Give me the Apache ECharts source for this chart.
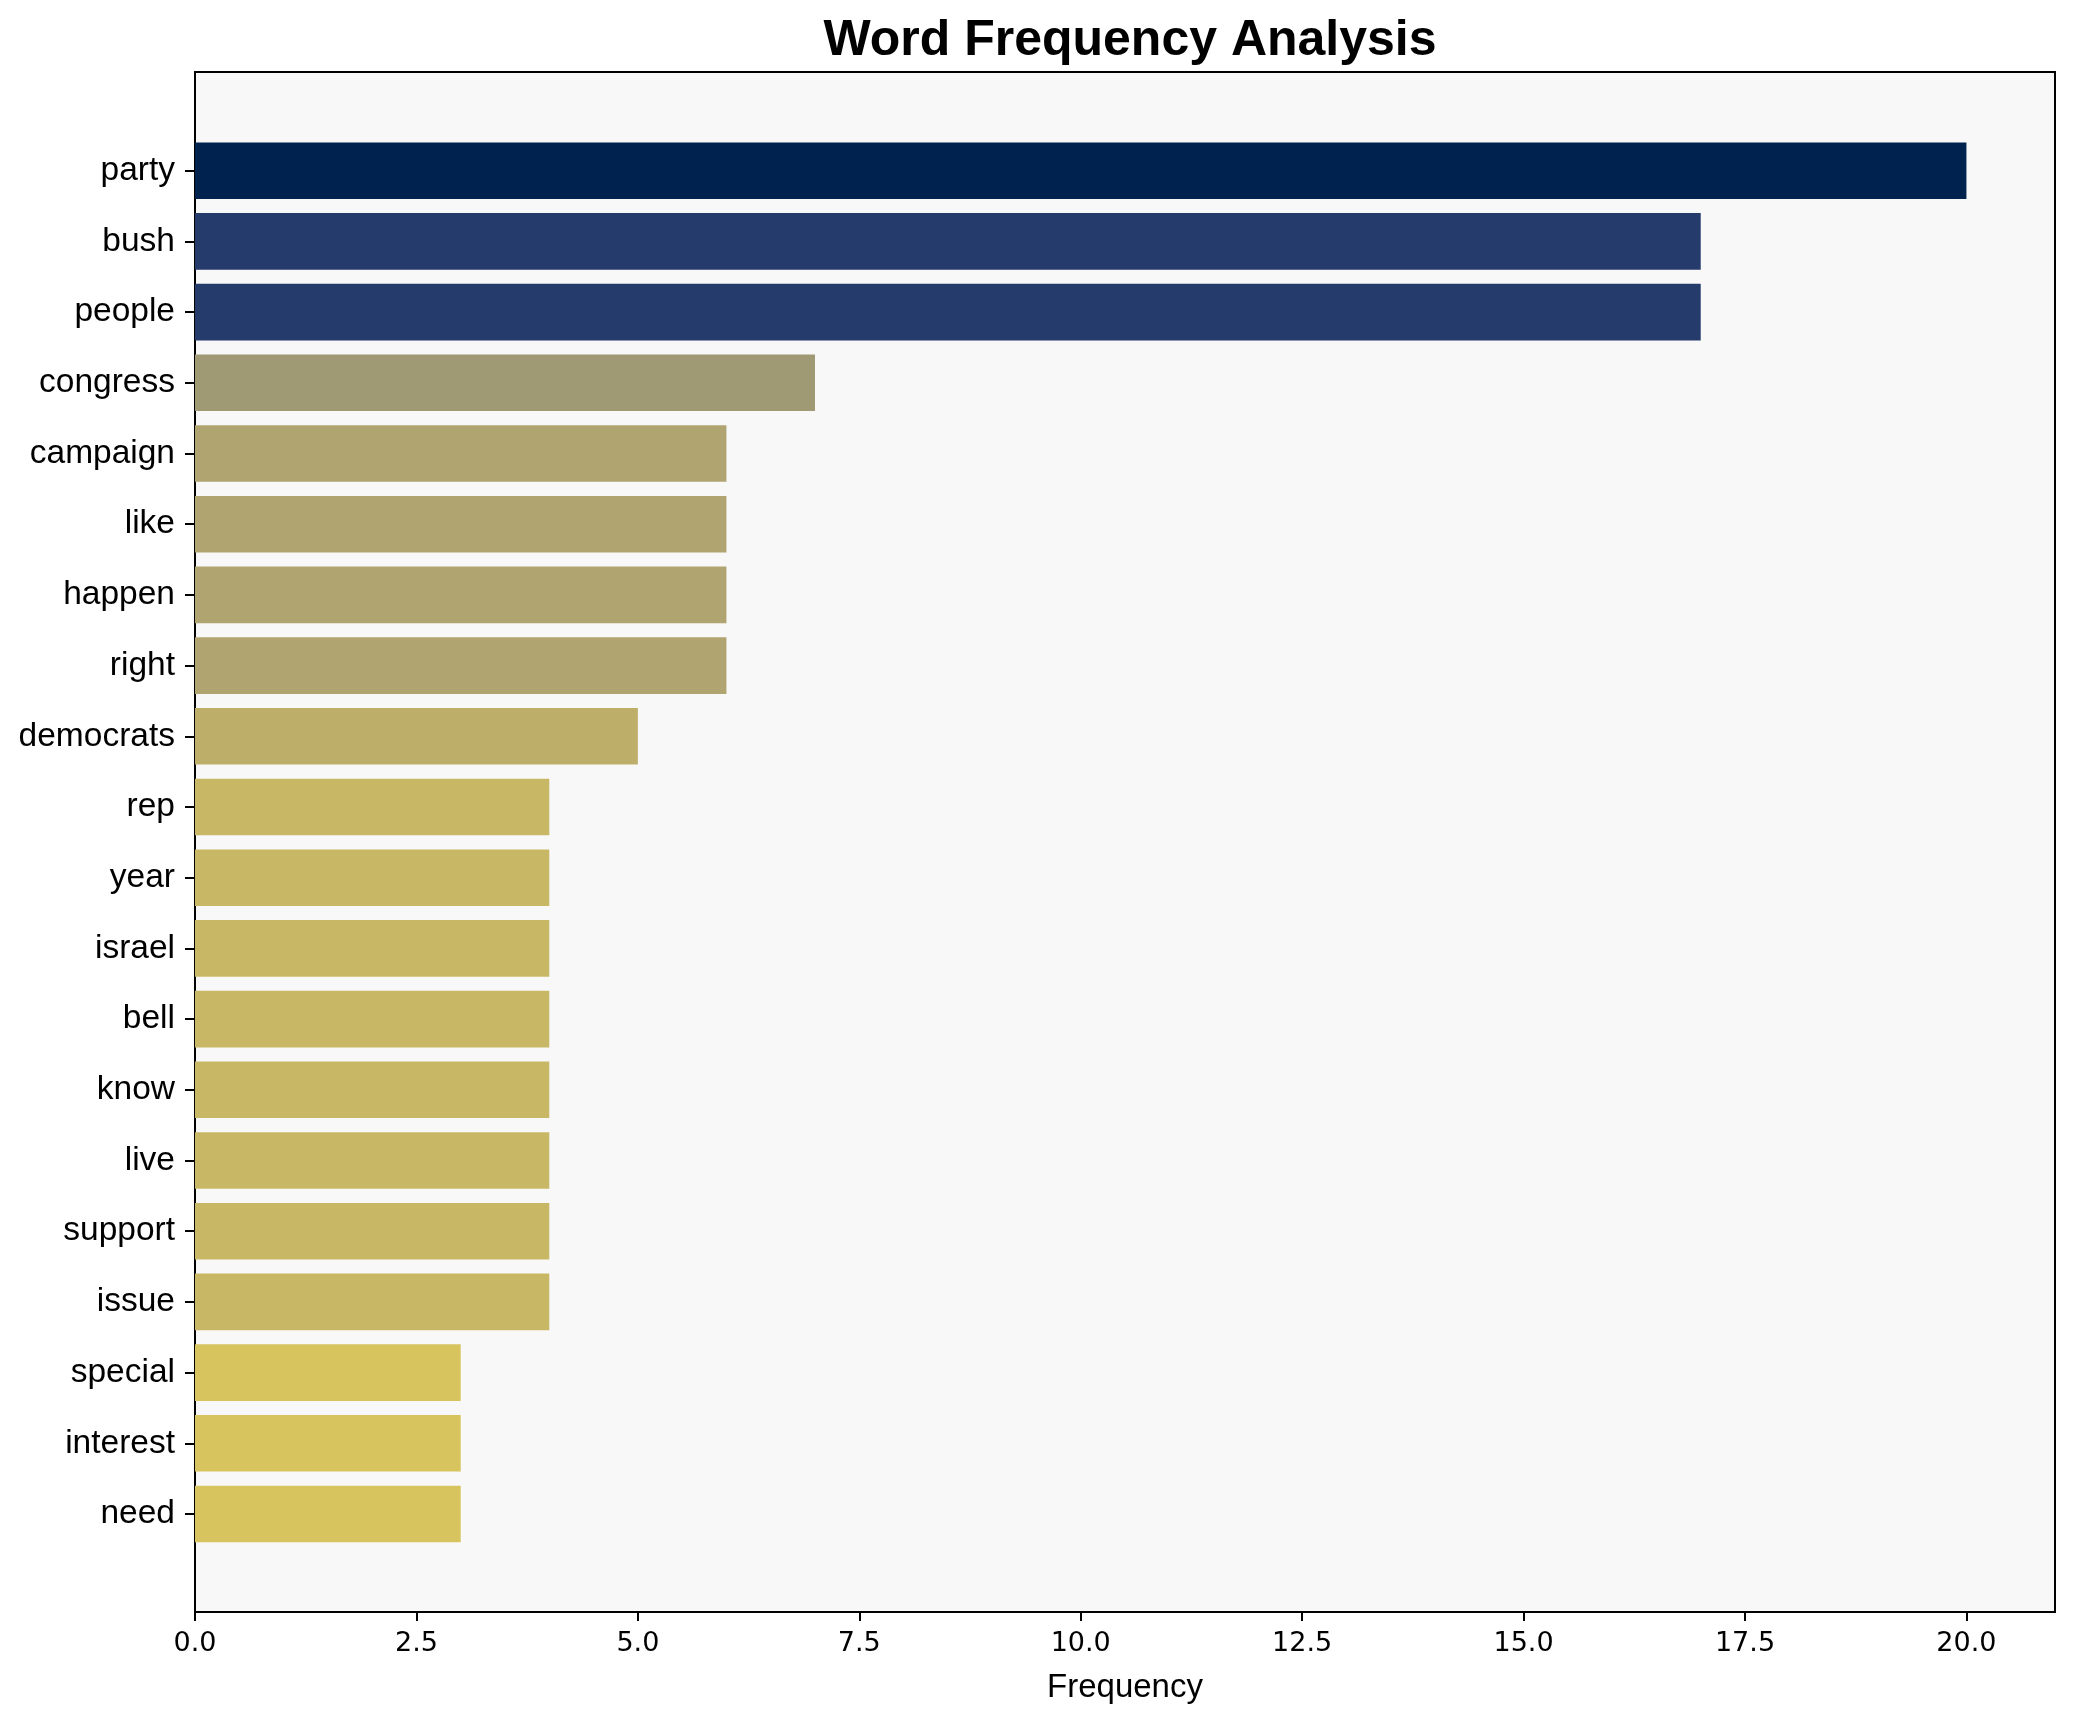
<!DOCTYPE html>
<html>
<head>
<meta charset="utf-8">
<script src="https://cdn.jsdelivr.net/npm/echarts@6/dist/echarts.min.js"></script>
<style>html,body{margin:0;padding:0;background:#fff;}#c{width:2075px;height:1722px;}</style>
</head>
<body>
<div id="c"></div>
<script>
var words = ['party','bush','people','congress','campaign','like','happen','right','democrats','rep','year','israel','bell','know','live','support','issue','special','interest','need'];
var freqs = [20,17,17,7,6,6,6,6,5,4,4,4,4,4,4,4,4,3,3,3];
var xTicks = [0,2.5,5,7.5,10,12.5,15,17.5,20];

var colorByValue = {20:'#00224f',17:'#243b6b',7:'#a09a74',6:'#b0a470',5:'#bdae6a',4:'#c8b866',3:'#d7c45e'};

var chart = echarts.init(document.getElementById('c'), null, {renderer:'canvas'});
var option = {
  backgroundColor:'#ffffff',
  animation:false,
  title:{
    text:'Word Frequency Analysis',
    left:1125, top:11, textAlign:'center',
    textStyle:{fontFamily:'Liberation Sans', fontWeight:'bold', fontSize:50, color:'#000'}
  },
  grid:[
    {left:195, right:20, top:72, bottom:110, show:true, backgroundColor:'#f8f8f8', borderColor:'#000', borderWidth:2},
    {left:195, right:20, top:135.35, bottom:172.65, show:false}
  ],
  xAxis:[
    {gridIndex:0, type:'value', min:0, max:21,
     axisLine:{show:true, lineStyle:{color:'#000', width:2}},
     axisTick:{show:true, length:9, customValues:xTicks, lineStyle:{color:'#000', width:2}},
     axisLabel:{show:true, margin:18, customValues:xTicks, fontFamily:'DejaVu Sans', fontSize:27, color:'#000',
       formatter:function(v){ return Number(v).toFixed(1); }},
     splitLine:{show:false},
     name:'Frequency', nameLocation:'middle', nameGap:59,
     nameTextStyle:{fontFamily:'Liberation Sans', fontSize:33, color:'#000'}
    },
    {gridIndex:1, type:'value', min:0, max:21, show:false, splitLine:{show:false}}
  ],
  yAxis:[
    {gridIndex:0, type:'value', min:0, max:1,
     axisLine:{show:true, lineStyle:{color:'#000', width:2}},
     axisTick:{show:false}, axisLabel:{show:false}, splitLine:{show:false}},
    {gridIndex:1, type:'category', inverse:true, data:words,
     axisLine:{show:false},
     axisTick:{show:true, alignWithLabel:true, length:10, lineStyle:{color:'#000', width:2}},
     axisLabel:{margin:20, fontFamily:'Liberation Sans', fontSize:33.5, color:'#000', padding:[3,0,0,0]},
     splitLine:{show:false}}
  ],
  series:[{
    type:'bar', xAxisIndex:1, yAxisIndex:1,
    barCategoryGap:'20%',
    data:freqs.map(function(v){ return {value:v, itemStyle:{color:colorByValue[v]}}; })
  }]
};
chart.setOption(option);
</script>
</body>
</html>
